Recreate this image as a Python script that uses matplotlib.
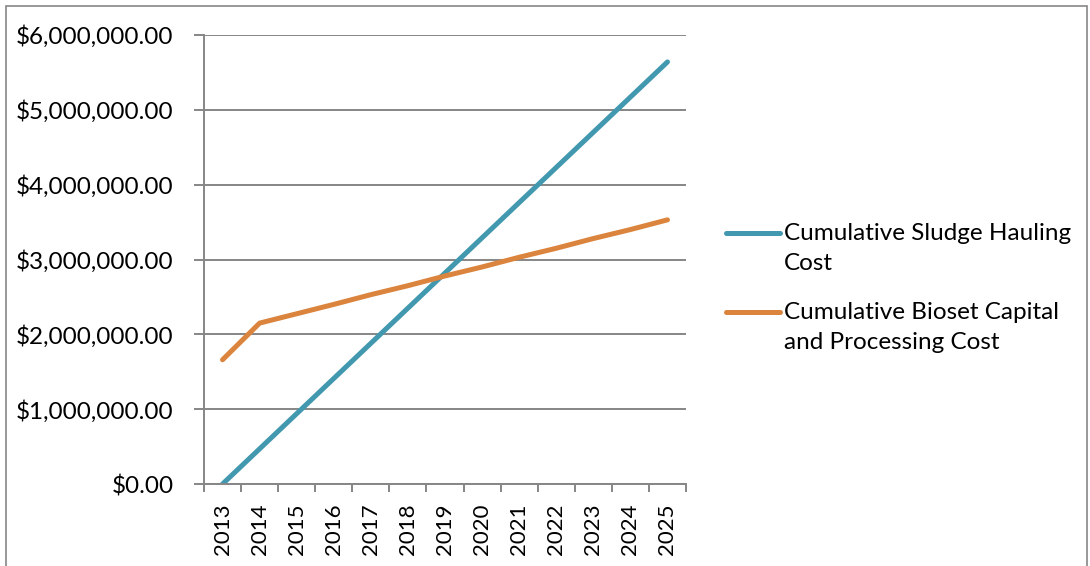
import matplotlib
matplotlib.use("Agg")
import matplotlib.pyplot as plt
from matplotlib.patches import Rectangle
from matplotlib.lines import Line2D
from matplotlib.ticker import FuncFormatter

years = ["2013", "2014", "2015", "2016", "2017", "2018", "2019",
         "2020", "2021", "2022", "2023", "2024", "2025"]
hauling = [0, 470000, 940000, 1410000, 1880000, 2350000, 2820000,
           3290000, 3760000, 4230000, 4700000, 5170000, 5640000]
bioset = [1660000, 2150000, 2275000, 2400000, 2530000, 2650000, 2780000,
          2900000, 3030000, 3150000, 3280000, 3400000, 3530000]
labels = ["Cumulative Sludge Hauling\nCost",
          "Cumulative Bioset Capital\nand Processing Cost"]

plt.rcParams['font.family'] = ['Lato', 'DejaVu Sans']

W, H = 1090, 566
fig = plt.figure(figsize=(W / 100, H / 100), dpi=100)
fig.patches.append(Rectangle((6 / W, -0.1), (1087 - 6) / W, 1.1 - 6 / H,
                             transform=fig.transFigure, fill=False,
                             edgecolor="#868686", lw=1.2))

ax = fig.add_axes([204 / W, (H - 484) / H, 482 / W, 449 / H])
x = list(range(len(years)))
l1, = ax.plot(x, hauling, color="#4198AF", lw=3.6, solid_capstyle="round")
l2, = ax.plot(x, bioset, color="#DB843D", lw=3.6, solid_capstyle="round")

ax.set_xlim(-0.5, len(years) - 0.5)
ax.set_ylim(0, 6000000)
ax.set_yticks(range(0, 6000001, 1000000))
ax.yaxis.set_major_formatter(FuncFormatter(lambda v, p: "${:,.2f}".format(v)))
ax.grid(axis="y", color="#868686", lw=1.4)
ax.set_axisbelow(True)

ax.set_xticks(x)
ax.set_xticklabels(years, rotation=90)
ax.set_xticks([i - 0.5 for i in range(len(years) + 1)], minor=True)
ax.tick_params(axis="x", which="major", length=0, pad=14, labelsize=16)
ax.tick_params(axis="x", which="minor", length=6, width=1.4, color="#868686")
ax.tick_params(axis="y", length=7, width=1.4, color="#868686", labelsize=17.5, pad=15)

for s in ["top", "right"]:
    ax.spines[s].set_visible(False)
for s in ["left", "bottom"]:
    ax.spines[s].set_color("#868686")
    ax.spines[s].set_linewidth(1.4)

# legend drawn by hand so the key sits on the first text line, as in Excel
for line, lab, ytop in [(l1, labels[0], 233), (l2, labels[1], 312)]:
    fig.add_artist(Line2D([726 / W, 780 / W], [1 - ytop / H] * 2,
                          transform=fig.transFigure, color=line.get_color(),
                          lw=line.get_linewidth(), solid_capstyle="round"))
    fig.text(784 / W, 1 - (ytop - 10) / H, lab, fontsize=17.5, va="top",
             ha="left", linespacing=1.55)

fig.savefig("out.png", dpi=100)
